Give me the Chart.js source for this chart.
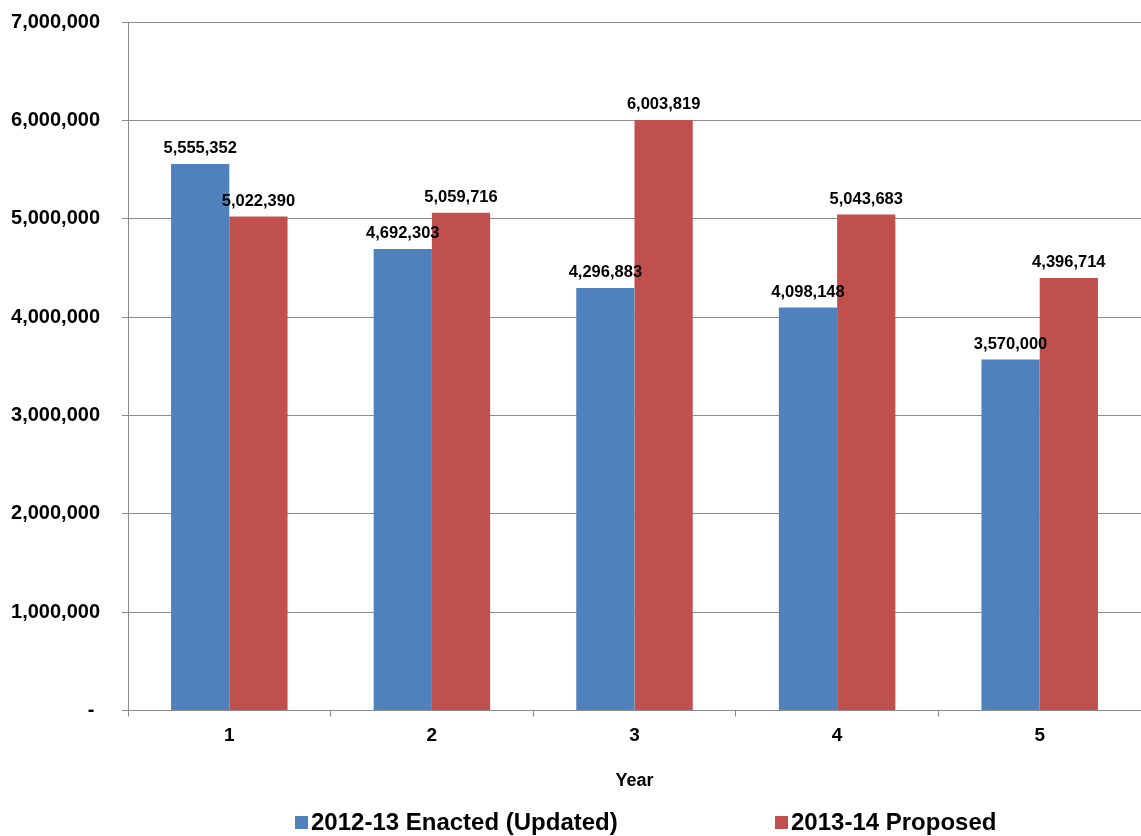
<!DOCTYPE html>
<html>
<head>
<meta charset="utf-8">
<script src="https://cdn.jsdelivr.net/npm/chart.js@4/dist/chart.umd.min.js"></script>
<style>
  html, body { margin: 0; padding: 0; background: #fff; }
  #wrap { position: relative; width: 1141px; height: 836px; }
  #legend {
    position: absolute; left: 0; top: 808px; width: 1141px; height: 28px;
    font-family: 'Liberation Sans Narrow', 'Liberation Sans', Arial, sans-serif;
    font-weight: bold; font-size: 24px; color: #000;
  }
  .item { position: absolute; top: 0; display: flex; align-items: center; white-space: nowrap; }
  .box { width: 13px; height: 13px; margin-right: 3px; }
</style>
</head>
<body>
<div id="wrap">
  <canvas id="chart" width="1141" height="836"></canvas>
  <div id="legend"></div>
</div>
<script>
// chart data
const years = ['1', '2', '3', '4', '5'];
const enacted = [5555352, 4692303, 4296883, 4098148, 3570000];
const proposed = [5022390, 5059716, 6003819, 5043683, 4396714];
const seriesNames = ['2012-13 Enacted (Updated)', '2013-14 Proposed'];
const seriesColors = ['#4F81BD', '#C0504D'];

const font = "'Liberation Sans', Arial, sans-serif";

function fmt(v) {
  if (v === 0) return '- ';
  return v.toLocaleString('en-US');
}

// draws value labels above each bar
const valueLabels = {
  id: 'valueLabels',
  afterDatasetsDraw(chart) {
    const ctx = chart.ctx;
    ctx.save();
    ctx.font = 'bold 16.5px ' + font;
    ctx.fillStyle = '#000';
    ctx.textAlign = 'center';
    ctx.textBaseline = 'bottom';
    chart.data.datasets.forEach((ds, i) => {
      chart.getDatasetMeta(i).data.forEach((bar, j) => {
        ctx.fillText(fmt(ds.data[j]), bar.x, bar.y - 7);
      });
    });
    ctx.restore();
  }
};

new Chart(document.getElementById('chart'), {
  type: 'bar',
  data: {
    labels: years,
    datasets: [
      { label: seriesNames[0], data: enacted, backgroundColor: seriesColors[0] },
      { label: seriesNames[1], data: proposed, backgroundColor: seriesColors[1] }
    ]
  },
  options: {
    responsive: false,
    animation: false,
    layout: { padding: { left: 0, top: 22, right: 0, bottom: 41 } },
    datasets: { bar: { barPercentage: 1, categoryPercentage: 0.575 } },
    plugins: {
      legend: { display: false },
      tooltip: { enabled: false }
    },
    scales: {
      x: {
        grid: { drawOnChartArea: false, offset: true, color: '#8c8c8c', tickLength: 6 },
        border: { color: '#8c8c8c' },
        ticks: { color: '#000', font: { family: font, size: 19, weight: 'bold' }, padding: 8 },
        title: {
          display: true, text: 'Year', color: '#000',
          font: { family: font, size: 18, weight: 'bold' },
          padding: { top: 15, bottom: 3 }
        }
      },
      y: {
        min: 0,
        max: 7000000,
        grid: { color: '#8c8c8c', tickLength: 6 },
        border: { color: '#8c8c8c' },
        afterFit: scale => {
          scale.width = 128;
          scale.paddingTop = 0;
          scale.paddingBottom = 0;
        },
        ticks: {
          stepSize: 1000000,
          color: '#000',
          padding: 22,
          font: { family: font, size: 20, weight: 'bold' },
          callback: v => fmt(v)
        }
      }
    }
  },
  plugins: [valueLabels]
});

// legend below the chart
const legendEl = document.getElementById('legend');
const legendX = [295, 775];
legendEl.innerHTML = seriesNames.map((name, i) => `
  <div class="item" style="left:${legendX[i]}px">
    <span class="box" style="background:${seriesColors[i]}"></span>${name}
  </div>`).join('');
</script>
</body>
</html>
